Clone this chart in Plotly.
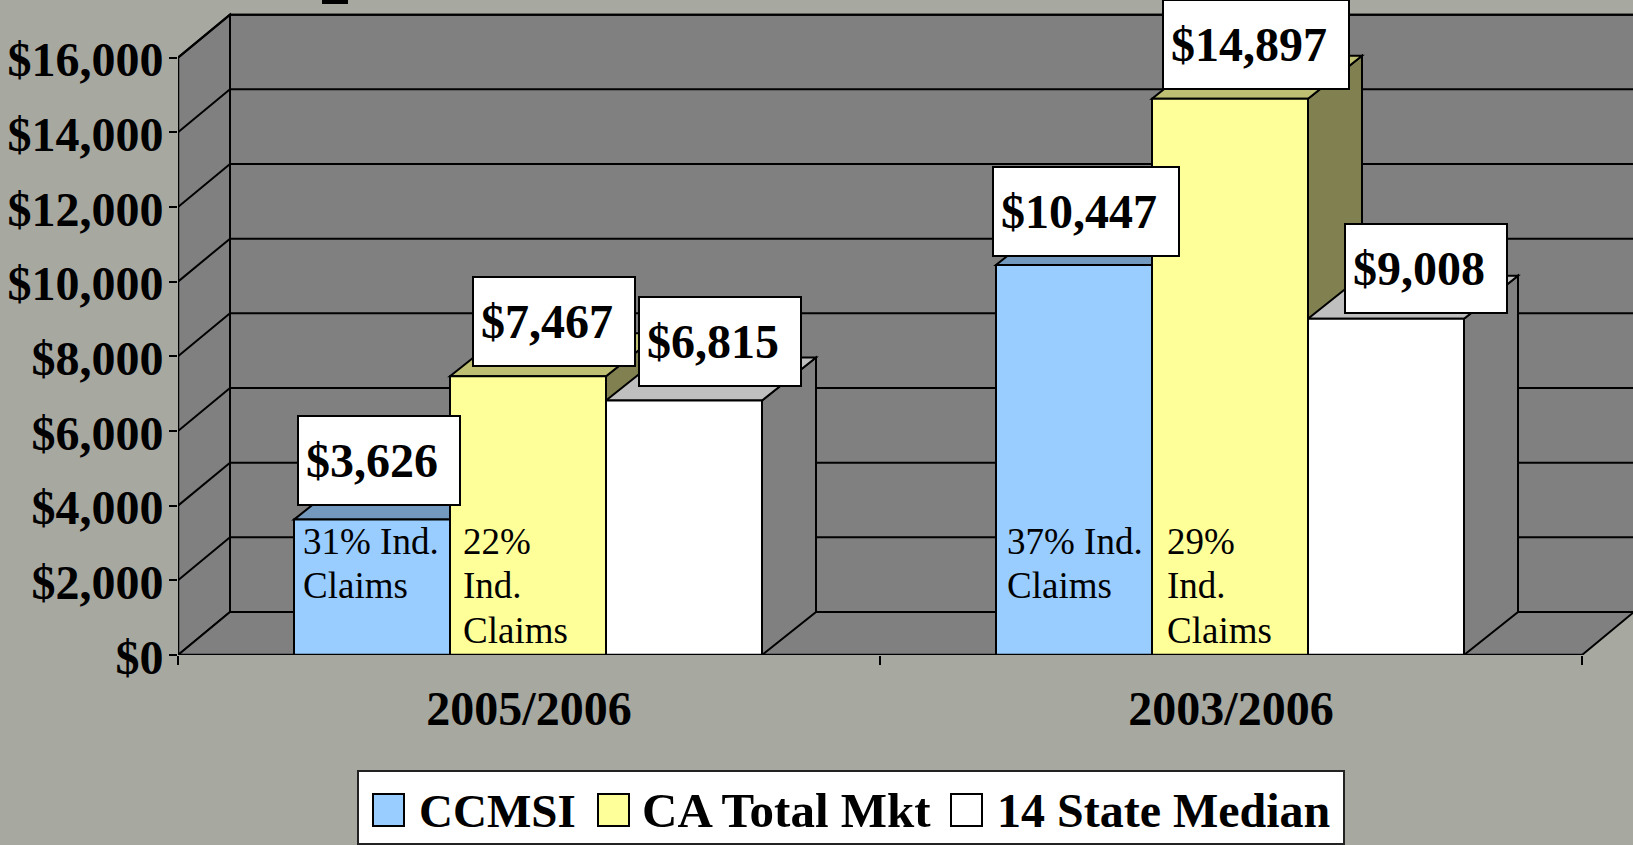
import plotly.graph_objects as go

categories = ["2005/2006", "2003/2006"]
series_names = ["CCMSI", "CA Total Mkt", "14 State Median"]
ccmsi = [3626, 10447]
ca_total = [7467, 14897]
state_median = [6815, 9008]
y_ticks = [0, 2000, 4000, 6000, 8000, 10000, 12000, 14000, 16000]
y_tick_labels = ["$0", "$2,000", "$4,000", "$6,000", "$8,000", "$10,000", "$12,000", "$14,000", "$16,000"]
value_labels = [["$3,626", "$10,447"], ["$7,467", "$14,897"], ["$6,815", "$9,008"]]
inner_notes = [
    [["31% Ind.", "Claims"], ["37% Ind.", "Claims"]],
    [["22%", "Ind.", "Claims"], ["29%", "Ind.", "Claims"]],
]

# Style / geometry
FONT = "Liberation Serif"
BG = "#A7A8A0"
WALL = "#808080"
FRONT = ["#99CCFF", "#FFFF99", "#FFFFFF"]
TOP = ["#7399BF", "#BFBF73", "#BFBFBF"]
SIDE = ["#4D6680", "#808050", "#808080"]
W, H = 1633, 845
LEFT, BASE = 178, 655
UNIT_PX = 702.0          # pixels per category
VAL_PX = 74.67 / 2000    # pixels per dollar
DX = 52 / UNIT_PX        # wall depth in x units
BAR_DX = 54 / UNIT_PX    # bar depth in x units
DY = 43 / VAL_PX         # depth in value units
BAR_W = 2 / 9
NUDGE = -1 / UNIT_PX
X_MAX = (W - LEFT) / UNIT_PX
Y_MAX = BASE / VAL_PX
series = [ccmsi, ca_total, state_median]


def px(v):
    return (v - LEFT) / (W - LEFT)


def py(v):
    return (BASE - v) / BASE


def poly(points, fill, line="black", lw=1.5, layer="below", ref="data"):
    path = "M" + "L".join(f"{x},{y}" for x, y in points) + "Z"
    xr, yr = ("x", "y") if ref == "data" else ("paper", "paper")
    return dict(type="path", path=path, xref=xr, yref=yr, fillcolor=fill,
                line=dict(color=line, width=lw), layer=layer)


shapes = []
top = y_ticks[-1]
# Walls and floor
shapes.append(poly([(0, 0), (0, top), (DX, top + DY), (DX, DY)], WALL, lw=2))
shapes.append(poly([(DX, DY), (DX, top + DY), (X_MAX + 1, top + DY), (X_MAX + 1, DY)], WALL, lw=2))
shapes.append(poly([(0, 0), (2, 0), (2 + DX, DY), (DX, DY)], WALL, lw=2))
# Gridlines
for v in y_ticks[1:]:
    shapes.append(dict(type="line", xref="x", yref="y", x0=0, y0=v, x1=DX, y1=v + DY,
                       line=dict(color="black", width=2), layer="below"))
    shapes.append(dict(type="line", xref="x", yref="y", x0=DX, y0=v + DY, x1=X_MAX, y1=v + DY,
                       line=dict(color="black", width=2), layer="below"))

# Bar tops and sides, painted left to right
for c in range(len(categories)):
    start = c + 0.5 + NUDGE - 1.5 * BAR_W
    for s, vals in enumerate(series):
        x0 = start + s * BAR_W
        x1 = x0 + BAR_W
        v = vals[c]
        shapes.append(poly([(x1, 0), (x1, v), (x1 + BAR_DX, v + DY), (x1 + BAR_DX, DY)], SIDE[s], lw=2))
        shapes.append(poly([(x0, v), (x1, v), (x1 + BAR_DX, v + DY), (x0 + BAR_DX, v + DY)], TOP[s], lw=2))

# Clipped remnant of the slide title at the very top
shapes.append(poly([(px(322), py(0)), (px(348), py(0)), (px(348), py(4)), (px(322), py(4))],
                   "black", lw=0, layer="above", ref="paper"))

fig = go.Figure()
centers = [i + 0.5 for i in range(len(categories))]
bar_centers = [c + NUDGE for c in centers]
for s, name in enumerate(series_names):
    fig.add_trace(go.Bar(name=name, x=bar_centers, y=series[s],
                         marker=dict(color=FRONT[s], line=dict(color="black", width=2)),
                         cliponaxis=False, showlegend=False, hoverinfo="skip"))

# Axis outlines, kept whole at the plot edge
for xs, ys in [([0, 0], [0, top]), ([0, 2], [0, 0])]:
    fig.add_trace(go.Scatter(x=xs, y=ys, mode="lines", line=dict(color="black", width=2.5),
                             cliponaxis=False, showlegend=False, hoverinfo="skip"))

annotations = []
# Value callouts: horizontal and vertical offset from each bar's top centre, in pixels
x_shift = [[6, 11], [25, 25], [35, 39]]
y_shift = [[14, 8], [9, 9], [14, 5]]
for s in range(3):
    for c in range(2):
        xc = c + 0.5 - BAR_W + s * BAR_W
        annotations.append(dict(
            x=xc, y=series[s][c], xref="x", yref="y", text=f"<b>{value_labels[s][c]}</b>", showarrow=False,
            xanchor="center", yanchor="bottom", xshift=x_shift[s][c], yshift=y_shift[s][c],
            width=146 if len(value_labels[s][c]) == 6 else 170, height=73, align="left", valign="middle",
            bgcolor="white", bordercolor="black", borderwidth=2, borderpad=7,
            font=dict(family=FONT, size=48, color="black"),
        ))

# Notes inside the bars
note_left = [[8, 10], [12, 14]]
line_rise = [114, 70, 25]
for s in range(2):
    for c in range(2):
        x0 = c + 0.5 - 1.5 * BAR_W + s * BAR_W
        for i, txt in enumerate(inner_notes[s][c]):
            annotations.append(dict(
                x=x0, y=0, xref="x", yref="y", text=txt, showarrow=False,
                xanchor="left", yanchor="middle", xshift=note_left[s][c] - 2, yshift=line_rise[i],
                font=dict(family=FONT, size=37, color="black"),
            ))

# Legend box with swatches and labels
shapes.append(poly([(px(358), py(771)), (px(1344), py(771)), (px(1344), py(844)), (px(358), py(844))],
                   "white", line="#222222", lw=2, layer="above", ref="paper"))
swatch_x = [373, 598, 951]
label_x = [419, 642, 997]
label_size = [47, 49, 48]
for s, name in enumerate(series_names):
    shapes.append(poly([(px(swatch_x[s]), py(794)), (px(swatch_x[s] + 31), py(794)),
                        (px(swatch_x[s] + 31), py(826)), (px(swatch_x[s]), py(826))],
                       FRONT[s], lw=2, layer="above", ref="paper"))
    annotations.append(dict(
        x=px(label_x[s] - 2), y=py(811), xref="paper", yref="paper", text=f"<b>{name}</b>", showarrow=False,
        xanchor="left", yanchor="middle", font=dict(family=FONT, size=label_size[s], color="black"),
    ))

fig.update_layout(
    width=W, height=H, autosize=False,
    margin=dict(l=LEFT, r=0, t=0, b=H - BASE, pad=0),
    paper_bgcolor=BG, plot_bgcolor="rgba(0,0,0,0)",
    barmode="group", bargap=1 / 3, bargroupgap=0,
    showlegend=False, shapes=shapes, annotations=annotations,
    font=dict(family=FONT, color="black"),
    xaxis=dict(
        range=[0, X_MAX], showgrid=False, zeroline=False, showline=False,
        tickmode="array", tickvals=centers, ticktext=categories, ticks="",
        ticklabelstandoff=21,
        tickfont=dict(family=FONT, size=48, color="black", weight="bold"),
        minor=dict(tickmode="array", tickvals=[0, 1, 2], ticks="outside", ticklen=9, tickwidth=1.5, tickcolor="black", showgrid=False),
    ),
    yaxis=dict(
        range=[0, Y_MAX], showgrid=False, zeroline=False, showline=False,
        tickmode="array", tickvals=y_ticks, ticktext=y_tick_labels,
        ticks="outside", ticklen=8, tickwidth=2, tickcolor="black",
        ticklabelstandoff=-4, ticklabelshift=2,
        tickfont=dict(family=FONT, size=48, color="black", weight="bold"),
    ),
)

fig.write_html("out.html", config=dict(displayModeBar=False),
               post_script="document.body.style.margin='0';document.body.style.overflow='hidden';")
